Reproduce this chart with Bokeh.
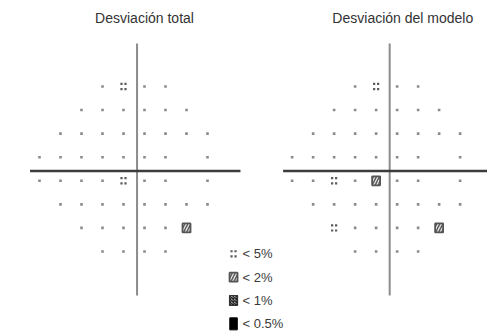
from bokeh.plotting import figure
from bokeh.models import Range1d
from bokeh.embed import file_html
from bokeh.resources import INLINE
from bokeh.core.properties import value

# ---- data ----
# 24-2 grid: columns present in each row (row 1 = top); blind spot excluded
field_rows = [
    [4, 5, 6, 7],
    [3, 4, 5, 6, 7, 8],
    [2, 3, 4, 5, 6, 7, 8, 9],
    [1, 2, 3, 4, 5, 6, 7, 9],
    [1, 2, 3, 4, 5, 6, 7, 9],
    [2, 3, 4, 5, 6, 7, 8, 9],
    [3, 4, 5, 6, 7, 8],
    [4, 5, 6, 7],
]
# probability level: 0 normal, 1 <5%, 2 <2%, 3 <1%, 4 <0.5%
total_dev = [
    [0, 1, 0, 0],
    [0, 0, 0, 0, 0, 0],
    [0, 0, 0, 0, 0, 0, 0, 0],
    [0, 0, 0, 0, 0, 0, 0, 0],
    [0, 0, 0, 0, 1, 0, 0, 0],
    [0, 0, 0, 0, 0, 0, 0, 0],
    [0, 0, 0, 0, 0, 2],
    [0, 0, 0, 0],
]
pattern_dev = [
    [0, 1, 0, 0],
    [0, 0, 0, 0, 0, 0],
    [0, 0, 0, 0, 0, 0, 0, 0],
    [0, 0, 0, 0, 0, 0, 0, 0],
    [0, 0, 1, 0, 2, 0, 0, 0],
    [0, 0, 0, 0, 0, 0, 0, 0],
    [1, 0, 0, 0, 0, 2],
    [0, 0, 0, 0],
]
titles = ["Desviación total", "Desviación del modelo"]
legend_levels = [1, 2, 3, 4]
legend_labels = ["< 5%", "< 2%", "< 1%", "< 0.5%"]

# ---- geometry (grid units) ----
PX_X = 21.0      # px per column
PX_Y = 23.57     # px per row
W, H = 487, 336
x_lo = 1 - 39 / PX_X
y_top = 1 - 86 / PX_Y
p = figure(width=W, height=H, output_backend="svg", toolbar_location=None,
           x_range=Range1d(x_lo, x_lo + W / PX_X),
           y_range=Range1d(y_top + H / PX_Y, y_top),
           x_axis_type=None, y_axis_type=None, min_border=0)
p.grid.visible = False
p.outline_line_color = None
p.background_fill_color = "white"
p.border_fill_color = "white"

offsets = [0.0, 12.03]
axis_x = 5.645
axis_y = 4.585
h_extent = [(0.55, 10.57), (12.6, 23.5)]
v_extent = (-0.82, 9.87)
title_x = [6.0, 18.3]
title_y = -1.915

def draw_symbols(xs, ys, lv):
    n = [(x, y) for x, y, l in zip(xs, ys, lv) if l == 0]
    f5 = [(x, y) for x, y, l in zip(xs, ys, lv) if l == 1]
    f2 = [(x, y) for x, y, l in zip(xs, ys, lv) if l == 2]
    f1 = [(x, y) for x, y, l in zip(xs, ys, lv) if l == 3]
    f05 = [(x, y) for x, y, l in zip(xs, ys, lv) if l == 4]
    if n:
        p.scatter([a for a, b in n], [b for a, b in n], marker="square",
                  size=2.6, color="#8a8a8a", line_color=None)
    if f5:
        dx, dy = 2.0 / PX_X, 2.6 / PX_Y
        qx, qy = [], []
        for a, b in f5:
            for sx in (-1, 1):
                for sy in (-1, 1):
                    qx.append(a + sx * dx)
                    qy.append(b + sy * dy)
        p.scatter(qx, qy, marker="square", size=2.2, color="#5a5a5a", line_color=None)
    if f2:
        p.rect([a for a, b in f2], [b for a, b in f2], width=8, height=9,
               width_units="screen", height_units="screen",
               fill_color="#e2e2e2", line_color="#555555", line_width=1.8,
               hatch_pattern="/", hatch_color="#555555", hatch_scale=6, hatch_weight=1.4)
    if f1:
        p.rect([a for a, b in f1], [b for a, b in f1], width=8, height=10,
               width_units="screen", height_units="screen",
               fill_color="#9a9a9a", line_color="#333333", line_width=1.2,
               hatch_pattern="x", hatch_color="#222222", hatch_scale=3, hatch_weight=1.3)
    if f05:
        p.rect([a for a, b in f05], [b for a, b in f05], width=7.5, height=12,
               width_units="screen", height_units="screen",
               fill_color="black", line_color="black")

for k, levels in enumerate([total_dev, pattern_dev]):
    off = offsets[k]
    xs, ys, lv = [], [], []
    for r, (cols, lev) in enumerate(zip(field_rows, levels), start=1):
        for c, l in zip(cols, lev):
            xs.append(c + off)
            ys.append(r)
            lv.append(l)
    # axes cross
    p.segment(x0=[axis_x + off], y0=[v_extent[0]], x1=[axis_x + off], y1=[v_extent[1]],
              line_color="#8c8c8c", line_width=2)
    p.segment(x0=[h_extent[k][0]], y0=[axis_y], x1=[h_extent[k][1]], y1=[axis_y],
              line_color="#3c3c3c", line_width=2.4)
    draw_symbols(xs, ys, lv)

p.text(x=title_x, y=[title_y] * 2, text=titles, text_font=value("Liberation Sans"),
       text_font_size="14px", text_align="center", text_baseline="middle",
       text_color="#333333")

# legend
leg_x = 10.24
leg_y = [8.1 + i * 0.99 for i in range(len(legend_levels))]
draw_symbols([leg_x] * len(legend_levels), leg_y, legend_levels)
p.text(x=[leg_x + 0.43] * len(legend_labels), y=leg_y, text=legend_labels,
       text_font=value("Liberation Sans"), text_font_size="13px",
       text_align="left", text_baseline="middle", text_color="#3a3a3a")

open("out.html", "w").write(file_html(p, INLINE))
